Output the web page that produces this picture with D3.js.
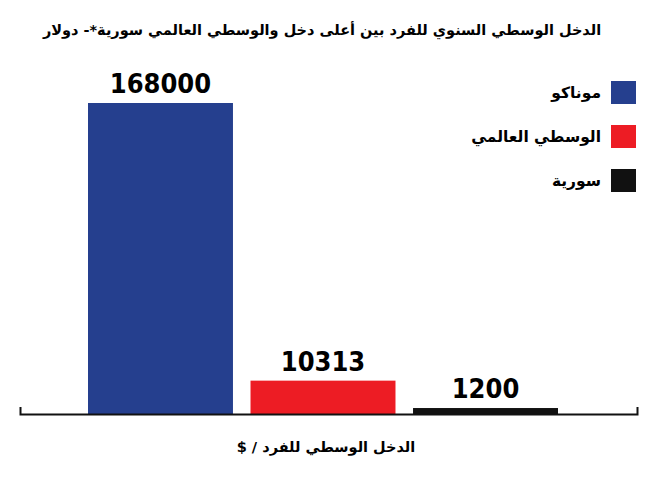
<!DOCTYPE html>
<html>
<head>
<meta charset="utf-8">
<script src="https://cdn.jsdelivr.net/npm/d3@7"></script>
<style>
  body { margin: 0; background: #fff; }
  text { font-family: "DejaVu Sans", sans-serif; font-weight: bold; }
  .num { font-family: "DejaVu Sans Condensed", "DejaVu Sans", sans-serif; font-stretch: condensed; }
</style>
</head>
<body>
<svg id="chart" width="658" height="482"></svg>
<script>
var categories = ["موناكو", "الوسطي العالمي", "سورية"];
var values = [168000, 10313, 1200];
var colors = ["#253f8e", "#ed1c24", "#111111"];

var title = "الدخل الوسطي السنوي للفرد بين أعلى دخل والوسطي العالمي سورية*- دولار";
var xLabel = "الدخل الوسطي للفرد / $";

var svg = d3.select("#chart");

var baseY = 414;

var x = d3.scaleBand()
    .domain(categories)
    .range([88, 558])
    .paddingInner(0.108)
    .paddingOuter(0);

// bars in the original are not to linear scale; a power scale fits them
var y = d3.scalePow()
    .exponent(0.8)
    .domain([0, 168000])
    .range([baseY, 103]);

svg.append("text")
    .attr("x", 322)
    .attr("y", 35)
    .attr("direction", "rtl")
    .attr("text-anchor", "middle")
    .style("font-size", "14.5px")
    .text(title);

svg.selectAll(".bar")
    .data(values)
    .join("rect")
    .attr("class", "bar")
    .attr("x", function (d, i) { return x(categories[i]); })
    .attr("y", function (d) { return y(d); })
    .attr("width", x.bandwidth())
    .attr("height", function (d) { return baseY - y(d); })
    .style("fill", function (d, i) { return colors[i]; });

svg.selectAll(".num")
    .data(values)
    .join("text")
    .attr("class", "num")
    .attr("x", function (d, i) { return x(categories[i]) + x.bandwidth() / 2; })
    .attr("y", function (d) { return y(d) - 10; })
    .attr("text-anchor", "middle")
    .style("font-size", "27px")
    .text(function (d) { return d; });

var axisScale = d3.scaleLinear().domain([0, 1]).range([20, 637]);

svg.append("g")
    .attr("transform", "translate(0," + baseY + ")")
    .call(d3.axisTop(axisScale).ticks(0).tickSizeOuter(7))
    .call(function (g) {
        g.select(".domain").attr("stroke", "#111").attr("stroke-width", 2);
    });

svg.append("text")
    .attr("x", 326)
    .attr("y", 452)
    .attr("direction", "rtl")
    .attr("text-anchor", "middle")
    .style("font-size", "14.5px")
    .text(xLabel);

var legend = svg.selectAll(".legend")
    .data(categories)
    .join("g")
    .attr("class", "legend")
    .attr("transform", function (d, i) { return "translate(0," + (81 + i * 44) + ")"; });

legend.append("rect")
    .attr("x", 611)
    .attr("width", 25)
    .attr("height", 23)
    .style("fill", function (d, i) { return colors[i]; });

legend.append("text")
    .attr("x", 601)
    .attr("y", 17)
    .attr("direction", "rtl")
    .attr("text-anchor", "start")
    .style("font-size", "15.5px")
    .text(function (d) { return d; });
</script>
</body>
</html>
